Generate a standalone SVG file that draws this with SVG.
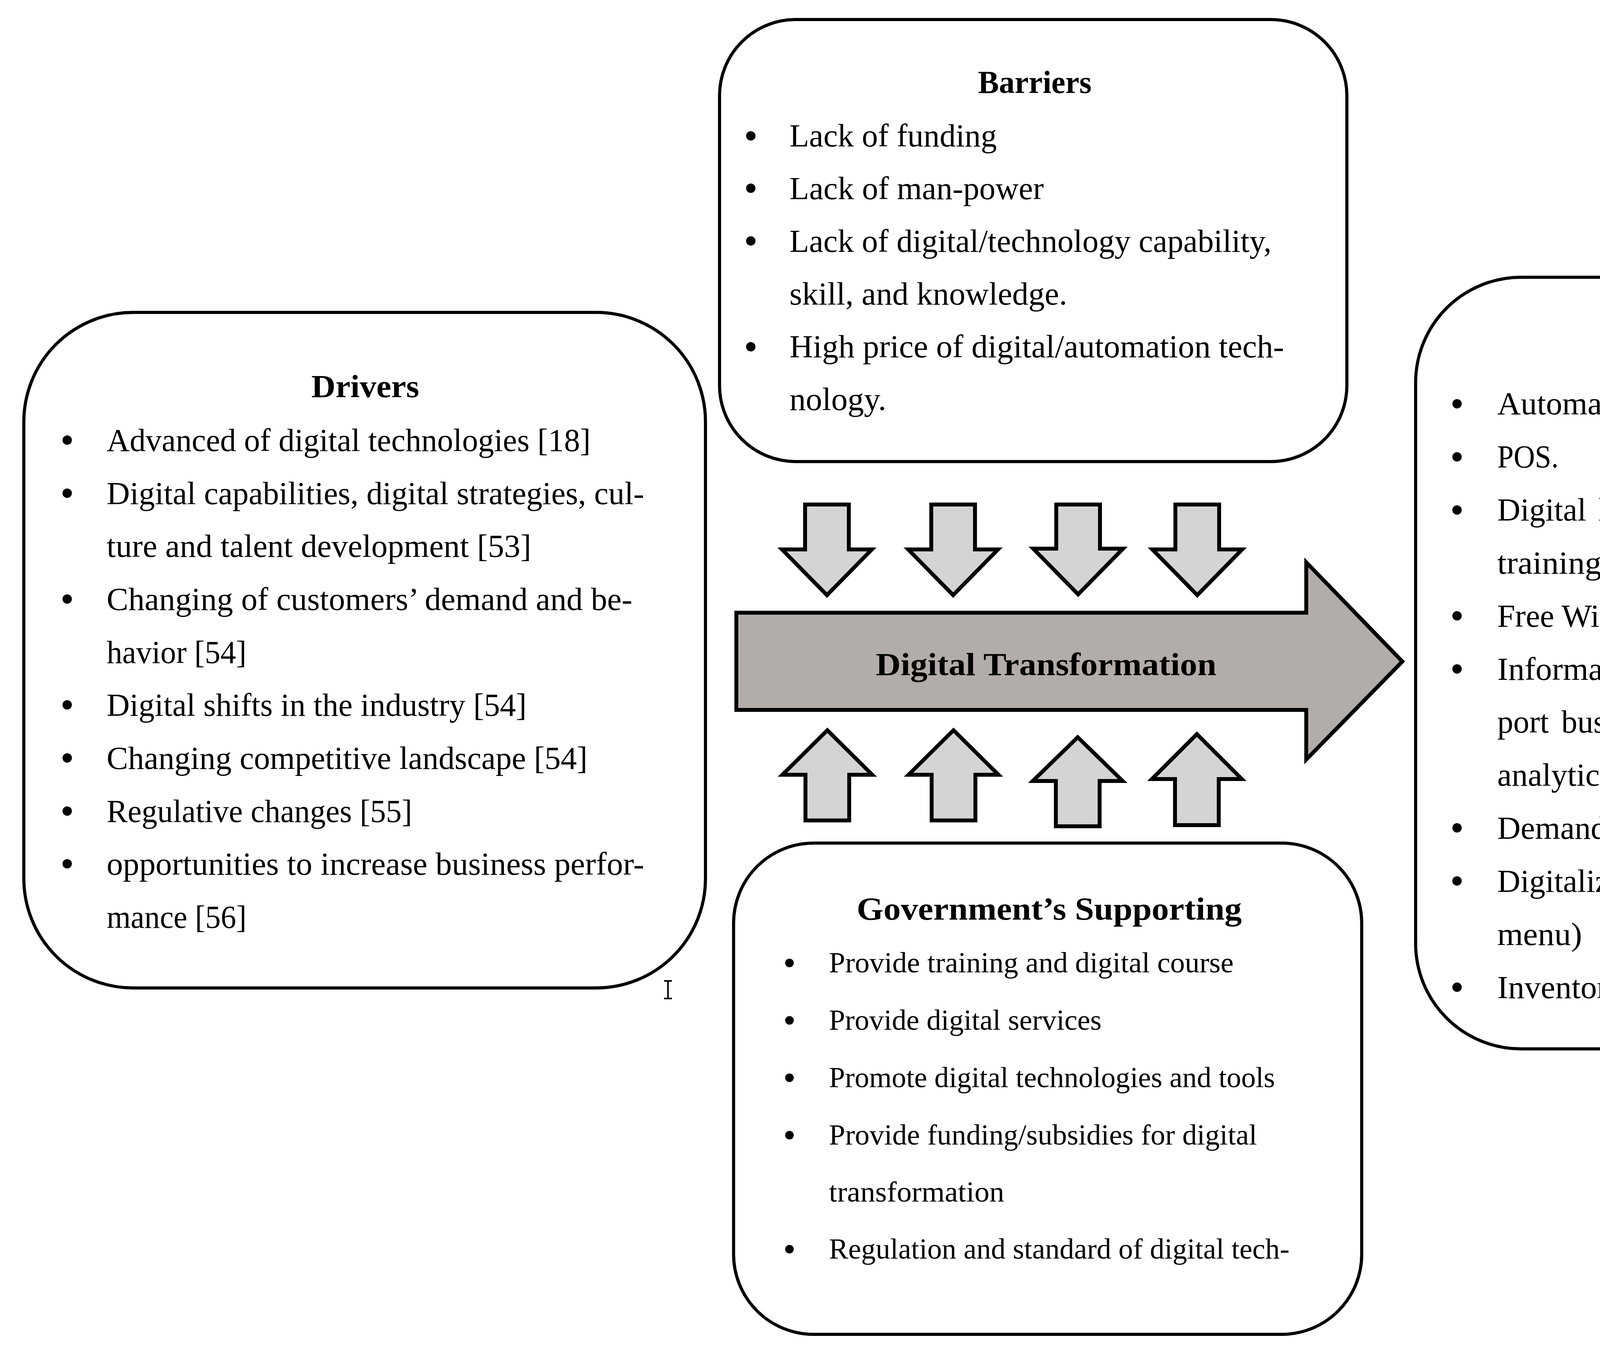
<svg xmlns="http://www.w3.org/2000/svg" width="5313" height="3452" viewBox="0 0 5313 3452">
<style>
.box{fill:#fff;stroke:#000;stroke-width:8}
.t{font-family:"Liberation Serif","Times New Roman",serif;font-size:82px;fill:#000}
.g{font-size:74px}
.h{font-weight:bold;text-anchor:middle}
.b{fill:#000}
.small{fill:#d4d4d4;stroke:#000;stroke-width:10;stroke-linejoin:miter}
.big{fill:#b2adaa;stroke:#000;stroke-width:10;stroke-linejoin:miter}
</style>
<rect width="5313" height="3452" fill="#fff"/>

<g id="barriers">
<rect class="box" x="1842" y="50" width="1606" height="1132" rx="195" ry="195"/>
<text class="t h" x="2649" y="238" textLength="291" lengthAdjust="spacingAndGlyphs">Barriers</text>
<circle class="b" cx="1922" cy="348" r="12"/>
<text class="t" x="2021" y="375" textLength="531" lengthAdjust="spacingAndGlyphs">Lack of funding</text>
<circle class="b" cx="1922" cy="482" r="12"/>
<text class="t" x="2021" y="510" textLength="651" lengthAdjust="spacingAndGlyphs">Lack of man-power</text>
<circle class="b" cx="1922" cy="617" r="12"/>
<text class="t" x="2021" y="645" textLength="1234" lengthAdjust="spacingAndGlyphs">Lack of digital/technology capability,</text>
<text class="t" x="2021" y="780" textLength="711" lengthAdjust="spacingAndGlyphs">skill, and knowledge.</text>
<circle class="b" cx="1922" cy="888" r="12"/>
<text class="t" x="2021" y="915" textLength="1266" lengthAdjust="spacingAndGlyphs">High price of digital/automation tech-</text>
<text class="t" x="2021" y="1050" textLength="248" lengthAdjust="spacingAndGlyphs">nology.</text>
</g>

<g id="drivers">
<rect class="box" x="61" y="800" width="1745" height="1730" rx="280" ry="280"/>
<text class="t h" x="935" y="1017" font-size="85" textLength="276" lengthAdjust="spacingAndGlyphs">Drivers</text>
<circle class="b" cx="172" cy="1127" r="12"/>
<text class="t" x="273" y="1155" textLength="1239" lengthAdjust="spacingAndGlyphs">Advanced of digital technologies [18]</text>
<circle class="b" cx="172" cy="1263" r="12"/>
<text class="t" x="273" y="1291" textLength="1376" lengthAdjust="spacingAndGlyphs">Digital capabilities, digital strategies, cul-</text>
<text class="t" x="273" y="1426" textLength="1087" lengthAdjust="spacingAndGlyphs">ture and talent development [53]</text>
<circle class="b" cx="172" cy="1534" r="12"/>
<text class="t" x="273" y="1562" textLength="1346" lengthAdjust="spacingAndGlyphs">Changing of customers’ demand and be-</text>
<text class="t" x="273" y="1698" textLength="358" lengthAdjust="spacingAndGlyphs">havior [54]</text>
<circle class="b" cx="172" cy="1805" r="12"/>
<text class="t" x="273" y="1833" textLength="1075" lengthAdjust="spacingAndGlyphs">Digital shifts in the industry [54]</text>
<circle class="b" cx="172" cy="1941" r="12"/>
<text class="t" x="273" y="1969" textLength="1231" lengthAdjust="spacingAndGlyphs">Changing competitive landscape [54]</text>
<circle class="b" cx="172" cy="2077" r="12"/>
<text class="t" x="273" y="2105" textLength="782" lengthAdjust="spacingAndGlyphs">Regulative changes [55]</text>
<circle class="b" cx="172" cy="2212" r="12"/>
<text class="t" x="273" y="2240" textLength="1376" lengthAdjust="spacingAndGlyphs">opportunities to increase business perfor-</text>
<text class="t" x="273" y="2376" textLength="358" lengthAdjust="spacingAndGlyphs">mance [56]</text>
</g>

<g id="cursor" stroke="#000" stroke-width="4" fill="none">
<line x1="1710" y1="2512" x2="1710" y2="2557"/>
<line x1="1700" y1="2512" x2="1720" y2="2512"/>
<line x1="1700" y1="2557" x2="1720" y2="2557"/>
</g>

<g id="government">
<rect class="box" x="1878" y="2159" width="1608" height="1258" rx="205" ry="205"/>
<text class="t h" x="2686" y="2355" font-size="84" textLength="986" lengthAdjust="spacingAndGlyphs">Government’s Supporting</text>
<circle class="b" cx="2021" cy="2466" r="11"/>
<text class="t g" x="2122" y="2490" textLength="1036" lengthAdjust="spacingAndGlyphs">Provide training and digital course</text>
<circle class="b" cx="2021" cy="2613" r="11"/>
<text class="t g" x="2122" y="2637" textLength="698" lengthAdjust="spacingAndGlyphs">Provide digital services</text>
<circle class="b" cx="2021" cy="2760" r="11"/>
<text class="t g" x="2122" y="2784" textLength="1142" lengthAdjust="spacingAndGlyphs">Promote digital technologies and tools</text>
<circle class="b" cx="2021" cy="2907" r="11"/>
<text class="t g" x="2122" y="2931" textLength="1096" lengthAdjust="spacingAndGlyphs">Provide funding/subsidies for digital</text>
<text class="t g" x="2122" y="3077" textLength="449" lengthAdjust="spacingAndGlyphs">transformation</text>
<circle class="b" cx="2021" cy="3199" r="11"/>
<text class="t g" x="2122" y="3223" textLength="1179" lengthAdjust="spacingAndGlyphs">Regulation and standard of digital tech-</text>
</g>

<g id="dt-applications">
<rect class="box" x="3624" y="710" width="1656" height="1976" rx="270" ry="270"/>
<text class="t h" x="4456" y="927" font-size="87" textLength="620" lengthAdjust="spacingAndGlyphs">DT Applications</text>
<circle class="b" cx="3730" cy="1034" r="12"/>
<text class="t" x="3833" y="1061" textLength="1277" lengthAdjust="spacingAndGlyphs">Automatic equipment to replace labor.</text>
<circle class="b" cx="3730" cy="1170" r="12"/>
<text class="t" x="3833" y="1197" textLength="157" lengthAdjust="spacingAndGlyphs">POS.</text>
<circle class="b" cx="3730" cy="1306" r="12"/>
<text class="t" y="1333"><tspan x="3833">Digital</tspan> <tspan x="4092">learning</tspan> <tspan x="4399">channel</tspan> <tspan x="4690">for</tspan> <tspan x="4817">employee</tspan></text>
<text class="t" x="3833" y="1469" textLength="267" lengthAdjust="spacingAndGlyphs">training</text>
<circle class="b" cx="3730" cy="1577" r="12"/>
<text class="t" x="3833" y="1605" textLength="799" lengthAdjust="spacingAndGlyphs">Free WiFi for customers</text>
<circle class="b" cx="3730" cy="1713" r="12"/>
<text class="t" x="3833" y="1741" textLength="1304" lengthAdjust="spacingAndGlyphs">Information/reservation system to sup-</text>
<text class="t" y="1876"><tspan x="3833">port</tspan> <tspan x="3997">business</tspan> <tspan x="4306">daily</tspan> <tspan x="4500">operation</tspan> <tspan x="4846">and</tspan> <tspan x="4994">data</tspan></text>
<text class="t" x="3833" y="2012" textLength="283" lengthAdjust="spacingAndGlyphs">analytic.</text>
<circle class="b" cx="3730" cy="2120" r="12"/>
<text class="t" x="3833" y="2148" textLength="1227" lengthAdjust="spacingAndGlyphs">Demand for mobile payment system.</text>
<circle class="b" cx="3730" cy="2256" r="12"/>
<text class="t" y="2284"><tspan x="3833">Digitalization</tspan> <tspan x="4374">tools/equipment</tspan> <tspan x="5000">(e.q.</tspan></text>
<text class="t" x="3833" y="2420" textLength="217" lengthAdjust="spacingAndGlyphs">menu)</text>
<circle class="b" cx="3730" cy="2528" r="12"/>
<text class="t" x="3833" y="2556" textLength="1046" lengthAdjust="spacingAndGlyphs">Inventory management system.</text>
</g>

<g id="digital-transformation">
<polygon class="big" points="1885,1569 3344,1569 3344,1440 3590,1694 3344,1945 3344,1818 1885,1818"/>
<text class="t h" x="2678" y="1729" font-size="86" textLength="872" lengthAdjust="spacingAndGlyphs">Digital Transformation</text>
</g>

<g id="connectors">
<polygon class="small" points="2061,1292 2173,1292 2173,1407 2232,1407 2117,1524 2002,1407 2061,1407"/>
<polygon class="small" points="2384,1292 2496,1292 2496,1407 2555,1407 2440,1524 2325,1407 2384,1407"/>
<polygon class="small" points="2704,1292 2816,1292 2816,1405 2875,1405 2760,1522 2645,1405 2704,1405"/>
<polygon class="small" points="3009,1292 3121,1292 3121,1407 3180,1407 3065,1524 2950,1407 3009,1407"/>
<polygon class="small" points="2118,1870 2233,1984 2174,1984 2174,2101 2062,2101 2062,1984 2003,1984"/>
<polygon class="small" points="2441,1870 2556,1984 2497,1984 2497,2101 2385,2101 2385,1984 2326,1984"/>
<polygon class="small" points="2759,1888 2874,2000 2815,2000 2815,2116 2703,2116 2703,2000 2644,2000"/>
<polygon class="small" points="3064,1880 3179,1995 3120,1995 3120,2113 3008,2113 3008,1995 2949,1995"/>
</g>
</svg>
